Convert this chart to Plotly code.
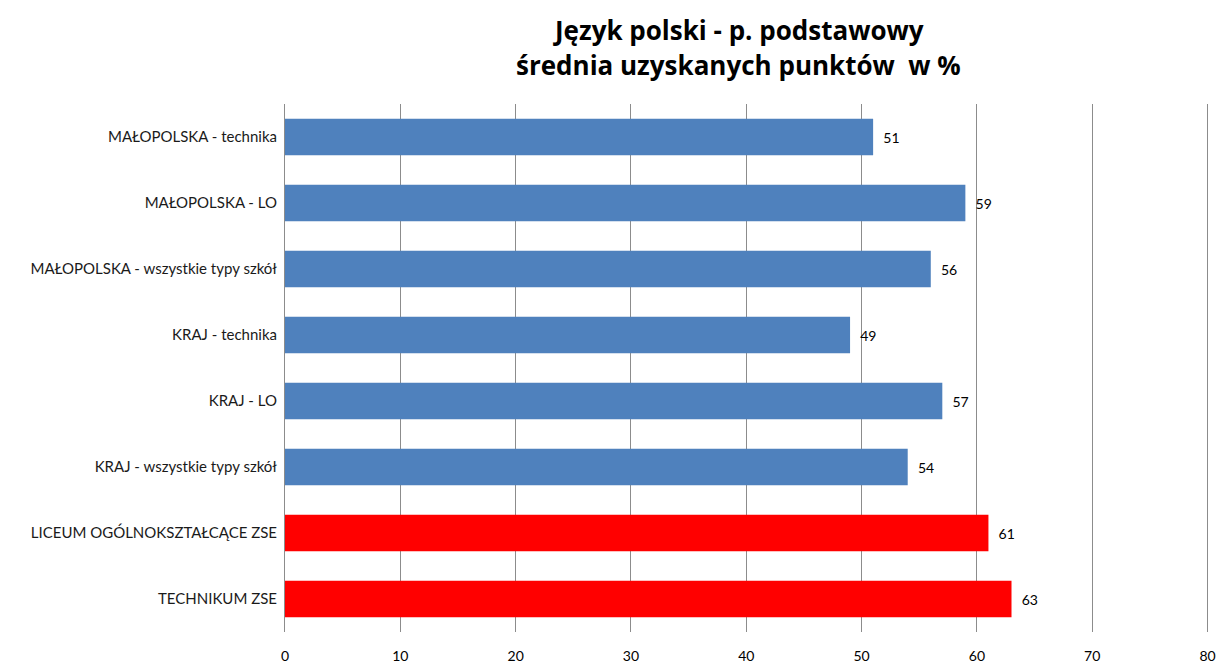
import plotly.graph_objects as go

categories = [
    "MAŁOPOLSKA - technika",
    "MAŁOPOLSKA - LO",
    "MAŁOPOLSKA - wszystkie typy szkół",
    "KRAJ - technika",
    "KRAJ - LO",
    "KRAJ - wszystkie typy szkół",
    "LICEUM OGÓLNOKSZTAŁCĄCE ZSE",
    "TECHNIKUM ZSE",
]
values = [51, 59, 56, 49, 57, 54, 61, 63]
bar_colors = ["#4F81BD"] * 6 + ["#FF0000"] * 2
x_ticks = [0, 10, 20, 30, 40, 50, 60, 70, 80]
title_lines = ["Język polski - p. podstawowy", "średnia uzyskanych punktów  w %"]

FONT = "Lato, 'Open Sans', sans-serif"
TITLE_FONT = "'Open Sans', Lato, sans-serif"

W, H = 1218, 671
L, R, T, B = 285, 7, 104, 39
plot_h = H - T - B

fig = go.Figure(
    go.Bar(
        x=values,
        y=categories,
        orientation="h",
        marker=dict(color=bar_colors, line=dict(width=0)),
        width=0.55,
        text=["\u00a0\u00a0" + str(v) for v in values],
        textposition="outside",
        textfont=dict(size=14, color="#000000", family=FONT),
        cliponaxis=False,
    )
)

title_y_px = [30, 65]
for line, ypx in zip(title_lines, title_y_px):
    fig.add_annotation(
        text=line,
        xref="paper", yref="paper",
        x=0.49, y=1 + (T - ypx) / plot_h,
        xanchor="center", yanchor="middle",
        showarrow=False,
        font=dict(size=26, color="#000000", family=TITLE_FONT, weight="bold"),
    )

fig.update_layout(
    width=W,
    height=H,
    margin=dict(l=L, r=R, t=T, b=B, autoexpand=False),
    paper_bgcolor="white",
    plot_bgcolor="white",
    showlegend=False,
    xaxis=dict(
        range=[0, 80.3],
        tickvals=x_ticks,
        ticktext=[str(t) for t in x_ticks],
        showgrid=True,
        gridcolor="#8C8C8C",
        gridwidth=1,
        zeroline=False,
        showline=False,
        automargin=False,
        tickfont=dict(size=14, color="#000000", family=FONT),
        ticks="",
        ticklabelstandoff=14,
    ),
    yaxis=dict(
        autorange="reversed",
        showgrid=False,
        zeroline=False,
        showline=True,
        linecolor="#8C8C8C",
        linewidth=1,
        automargin=False,
        ticks="",
        ticklabelstandoff=4,
        tickfont=dict(size=15, color="#1a1a1a", family=FONT),
    ),
    bargap=0.45,
)

fig.write_html(
    "out.html",
    config={"displayModeBar": False},
    post_script="document.body.style.margin='0';document.body.style.overflow='hidden';",
)
